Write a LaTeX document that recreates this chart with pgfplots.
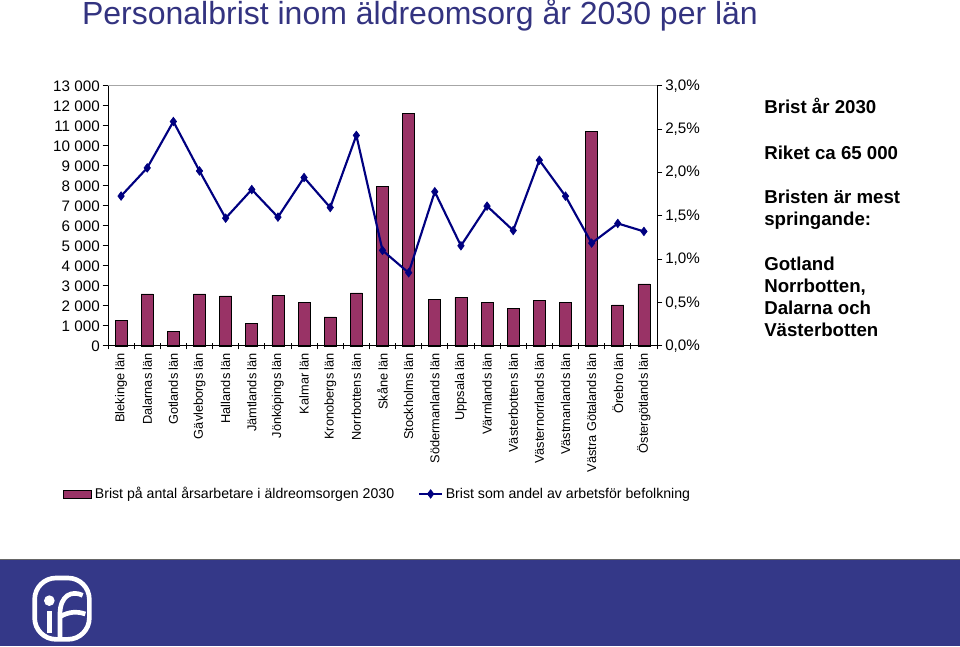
\documentclass[border=0pt]{standalone}
\usepackage{pgfplots}
\pgfplotsset{compat=1.18}
\usepackage{fontspec}
\setmainfont{Liberation Sans}
\definecolor{barc}{RGB}{153,51,102}
\definecolor{linec}{RGB}{0,0,128}
\definecolor{titlec}{RGB}{51,51,128}
\definecolor{bannerc}{RGB}{52,56,136}
\pgfplotstableread{
x y
0 1290
1 2600
2 720
3 2600
4 2500
5 1120
6 2530
7 2170
8 1450
9 2650
10 7970
11 11620
12 2310
13 2430
14 2160
15 1880
16 2280
17 2160
18 10740
19 2050
20 3100
}\bars
\pgfplotstableread{
x p
0 1.73
1 2.055
2 2.59
3 2.02
4 1.475
5 1.805
6 1.487
7 1.944
8 1.598
9 2.43
10 1.103
11 0.845
12 1.78
13 1.156
14 1.614
15 1.333
16 2.144
17 1.729
18 1.187
19 1.414
20 1.322
}\share
\begin{document}
\begin{tikzpicture}
\path[use as bounding box] (0,0) rectangle (720pt,484.5pt);
% banner
\fill[bannerc] (0,0) rectangle (720pt,65.25pt);
\draw[gray!80!black, line width=0.6pt] (0,65.25pt) -- (720pt,65.25pt);
% logo
\begin{scope}[white]
\draw[line width=3.5pt, rounded corners=16pt] (26pt,5pt) rectangle (67pt,51pt);
\fill (37pt,34pt) circle (4pt);
\draw[line width=3.5pt] (37pt,26pt) -- (37pt,10pt);
\draw[line width=3.5pt] (45pt,5pt) -- (45pt,24pt) .. controls (45pt,38pt) and (54pt,42pt) .. (62pt,38pt);
\draw[line width=3.5pt] (45pt,22pt) .. controls (52pt,26pt) and (58pt,26pt) .. (64pt,24pt);
\end{scope}
% title
\node[text=titlec, font=\fontsize{24}{28}\selectfont] at (315pt,473pt) {Personalbrist inom äldreomsorg år 2030 per län};
% right text
\begin{scope}[every node/.style={anchor=base west, inner sep=0pt, font=\fontsize{14}{16.5}\selectfont\bfseries}]
\node at (573pt,399pt) {Brist år 2030};
\node at (573pt,364.5pt) {Riket ca 65 000};
\node at (573pt,331.5pt) {Bristen är mest};
\node at (573pt,315pt) {springande:};
\node at (573pt,281.25pt) {Gotland};
\node at (573pt,264.75pt) {Norrbotten,};
\node at (573pt,248.25pt) {Dalarna och};
\node at (573pt,231.75pt) {Västerbotten};
\end{scope}
% bars axis
\begin{axis}[
  at={(81pt,225pt)}, anchor=south west,
  width=411.75pt, height=195pt, scale only axis,
  xmin=-0.5, xmax=20.5, ymin=0, ymax=13000,
  axis x line*=bottom, axis y line*=left,
  axis line style={line width=0.75pt, black},
  tick align=outside, major tick length=4pt,
  every tick/.style={black, line width=0.75pt},
  xtick={0,...,20},
  xtick style={draw=none},
  xticklabels={Blekinge län, Dalarnas län, Gotlands län, Gävleborgs län, Hallands län, Jämtlands län, Jönköpings län, Kalmar län, Kronobergs län, Norrbottens län, Skåne län, Stockholms län, Södermanlands län, Uppsala län, Värmlands län, Västerbottens län, Västernorrlands län, Västmanlands län, Västra Götalands län, Örebro län, Östergötlands län},
  xticklabel style={rotate=90, anchor=east, font=\fontsize{9.6}{11}\selectfont, inner sep=1pt},
  ytick={0,1000,...,13000},
  yticklabel style={font=\fontsize{11.4}{13}\selectfont, inner sep=2pt},
  /pgf/number format/assume math mode=true,
  /pgf/number format/1000 sep={\ },
  scaled y ticks=false,
  clip=false,
]
\addplot[ybar, bar width=9pt, fill=barc, draw=black, line width=0.6pt] table[x=x,y=y] {\bars};
\draw[gray!70, line width=0.75pt] (rel axis cs:0,1) -- (rel axis cs:1,1);
\end{axis}
% separator ticks on x axis
\begin{axis}[
  at={(81pt,225pt)}, anchor=south west,
  width=411.75pt, height=195pt, scale only axis,
  xmin=-0.5, xmax=20.5, ymin=0, ymax=1,
  axis x line*=bottom, axis y line=none,
  axis line style={line width=0.75pt, black},
  xtick={-0.5,0.5,...,20.5}, xticklabels={},
  tick align=center, major tick length=5pt,
  every tick/.style={black, line width=0.75pt},
]
\addplot[draw=none] coordinates {(0,0)};
\end{axis}
% line axis
\begin{axis}[
  at={(81pt,225pt)}, anchor=south west,
  width=411.75pt, height=195pt, scale only axis,
  xmin=-0.5, xmax=20.5, ymin=0, ymax=3,
  axis x line=none, axis y line*=right,
  axis line style={line width=0.75pt, black},
  tick align=outside, major tick length=4pt,
  every tick/.style={black, line width=0.75pt},
  ytick={0,0.5,...,3},
  yticklabels={{0,0\%},{0,5\%},{1,0\%},{1,5\%},{2,0\%},{2,5\%},{3,0\%}},
  yticklabel style={font=\fontsize{11.4}{13}\selectfont, inner sep=2pt},
  clip=false,
  legend columns=2,
  legend style={at={(-0.089,-0.569)}, anchor=west, draw=none, fill=none,
    font=\fontsize{10.6}{12}\selectfont,
    /tikz/every even column/.append style={column sep=16pt}},
]
\addlegendimage{legend image code/.code={\draw[fill=barc,draw=black,line width=0.6pt] (-2.5pt,-3pt) rectangle (18.5pt,3pt);}}
\addlegendentry{Brist på antal årsarbetare i äldreomsorgen 2030}
\addplot[linec, line width=1.6pt, mark=diamond*, mark size=3.2pt, mark options={fill=linec, line width=0.5pt}] table[x=x,y=p] {\share};
\addlegendentry{Brist som andel av arbetsför befolkning}
\end{axis}
\end{tikzpicture}
\end{document}
